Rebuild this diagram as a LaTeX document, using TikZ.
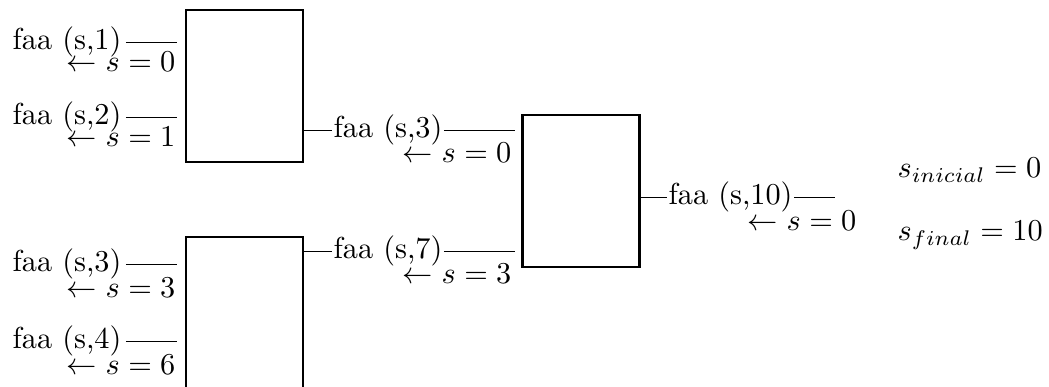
\documentclass[tikz,border=0pt]{standalone}
\usepackage{amsmath}
\usetikzlibrary{positioning,calc}
\tikzset{
  sgbox/.style={
    rectangle, draw=black, line width=0.7pt,
    minimum width=38.6pt, minimum height=50.2pt, inner sep=0pt
  },
  sglabel/.style={inner sep=0pt, anchor=base west},
  sgval/.style={inner sep=0pt, anchor=base east},
  sgwire/.style={line width=0.5pt, draw=black},
}
\begin{document}
\begin{tikzpicture}[x=0.33pt, y=-0.33pt]
  \clip (0,0) rectangle (1049,387);
  % blocks
  \node (ba) [sgbox] at (244.5,86)  {};
  \node (bb) [sgbox] at (244.5,313) {};
  \node (bc) [sgbox] at (581,191)   {};
  % inputs of the two left blocks
  \node (e1) [sglabel] at (12,50)  {faa (s,1)};
  \node (v1) [sgval]   at (176,72) {$\leftarrow s = 0$};
  \node (e2) [sglabel] at (12,125) {faa (s,2)};
  \node (v2) [sgval]   at (176,147) {$\leftarrow s = 1$};
  \node (e3) [sglabel] at (12,272) {faa (s,3)};
  \node (v3) [sgval]   at (176,298) {$\leftarrow s = 3$};
  \node (e4) [sglabel] at (12,349) {faa (s,4)};
  \node (v4) [sgval]   at (176,375) {$\leftarrow s = 6$};
  \foreach \e/\b in {e1/ba,e2/ba,e3/bb,e4/bb}
    \draw[sgwire] ($(\e.base east)+(4,-7.6)$) -- ($(\e.base east -| \b.west)+(-8,-7.6)$);
  % middle block
  \node (m1) [sglabel] at (333,138) {faa (s,3)};
  \node (w1) [sgval]   at (512,163) {$\leftarrow s = 0$};
  \node (m2) [sglabel] at (333,259) {faa (s,7)};
  \node (w2) [sgval]   at (512,284) {$\leftarrow s = 3$};
  \foreach \m/\b in {m1/ba,m2/bb}{
    \draw[sgwire] ($(\m.base west -| \b.east)+(0,-7.6)$) -- ($(\m.base west)+(-1,-7.6)$);
    \draw[sgwire] ($(\m.base east)+(1,-7.6)$) -- ($(\m.base east -| bc.west)+(-6,-7.6)$);
  }
  % output
  \node (o1) [sglabel] at (668,205) {faa (s,10)};
  \node (u1) [sgval]   at (857,231) {$\leftarrow s = 0$};
  \coordinate (tail) at ($(o1.base east)+(42,-7.6)$);
  \draw[sgwire] ($(o1.base west -| bc.east)+(0,-7.6)$) -- ($(o1.base west)+(-1,-7.6)$);
  \draw[sgwire] ($(o1.base east)+(1,-7.6)$) -- (tail);
  % initial and final values
  \node (si) [sglabel] at (897,178) {$s_{inicial} = 0$};
  \node (sf) [sglabel] at (897,241) {$s_{final} = 10$};
\end{tikzpicture}
\end{document}
